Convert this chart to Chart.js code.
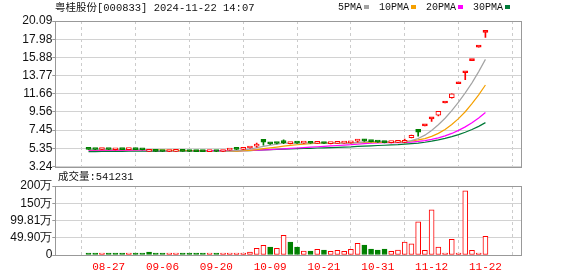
<!DOCTYPE html>
<html>
<head>
<meta charset="utf-8">
<title>粤桂股份 K线</title>
<script src="https://cdn.jsdelivr.net/npm/chart.js@4.4.1/dist/chart.umd.min.js"></script>
<style>
    html, body { margin: 0; padding: 0; background: #fff; }
    #wrap {
        position: relative; width: 578px; height: 276px; overflow: hidden;
        font-family: "Liberation Mono", "Noto Sans CJK SC", monospace; color: #111;
    }
    #wrap canvas { position: absolute; left: 0; }
    #kChart { top: 0; }
    #volChart { top: 170px; }
    .txt { position: absolute; white-space: nowrap; font-size: 10.5px; line-height: 12px; }
    #title { left: 55px; top: 2px; }
    #volTitle { left: 58px; top: 171px; }
    #legend { left: 338px; top: 2px; font-size: 10px; }
    #legend .sq { display: inline-block; width: 5px; height: 4px; margin: 0 10px 1px 2px; }
</style>
</head>
<body>
<div id="wrap">
    <canvas id="kChart" width="578" height="180"></canvas>
    <canvas id="volChart" width="578" height="106"></canvas>
    <div class="txt" id="title">粤桂股份[000833] 2024-11-22 14:07</div>
    <div class="txt" id="legend"></div>
    <div class="txt" id="volTitle">成交量:541231</div>
</div>
<script>
// Jours de cotation affichés
const dates = ['08-22', '08-23', '08-26', '08-27', '08-28', '08-29', '08-30', '09-02', '09-03', '09-04',
    '09-05', '09-06', '09-09', '09-10', '09-11', '09-12', '09-13', '09-18', '09-19', '09-20',
    '09-23', '09-24', '09-25', '09-26', '09-27', '09-30', '10-08', '10-09', '10-10', '10-11',
    '10-14', '10-15', '10-16', '10-17', '10-18', '10-21', '10-22', '10-23', '10-24', '10-25',
    '10-28', '10-29', '10-30', '10-31', '11-01', '11-04', '11-05', '11-06', '11-07', '11-08',
    '11-11', '11-12', '11-13', '11-14', '11-15', '11-18', '11-19', '11-20', '11-21', '11-22'];

// Cours (ouverture, plus haut, plus bas, clôture)
const open = [5.24, 5.22, 5.21, 5.23, 5.18, 5.20, 5.19, 5.21, 5.20, 5.00,
    5.03, 4.99, 4.98, 4.99, 5.00, 4.99, 4.98, 4.97, 4.96, 4.99,
    4.98, 5.14, 5.25, 5.22, 5.38, 5.60, 6.38, 5.92, 5.95, 6.11,
    5.88, 5.97, 5.94, 5.98, 5.92, 5.97, 5.88, 5.92, 5.95, 5.97,
    6.18, 6.36, 6.20, 6.12, 6.06, 6.00, 6.03, 6.03, 6.57, 7.54,
    7.95, 8.75, 9.17, 10.59, 11.22, 12.82, 14.10, 15.51, 17.06, 18.77];
const high = [5.27, 5.23, 5.27, 5.24, 5.26, 5.21, 5.22, 5.22, 5.21, 5.06,
    5.04, 5.00, 5.00, 5.01, 5.01, 5.00, 4.99, 4.98, 5.00, 5.00,
    5.04, 5.24, 5.27, 5.34, 5.48, 5.95, 6.38, 5.98, 5.97, 6.34,
    6.03, 5.99, 6.00, 5.99, 5.99, 5.98, 5.94, 5.97, 5.99, 6.05,
    6.38, 6.38, 6.22, 6.14, 6.08, 6.05, 6.08, 6.41, 6.88, 7.54,
    7.95, 8.75, 9.63, 10.59, 11.65, 12.82, 14.10, 15.51, 17.06, 18.77];
const low = [5.21, 5.20, 5.20, 5.20, 5.17, 5.18, 5.18, 5.19, 5.17, 4.98,
    4.97, 4.97, 4.97, 4.98, 4.98, 4.97, 4.96, 4.95, 4.95, 4.97,
    4.97, 5.12, 5.20, 5.20, 5.36, 5.48, 5.72, 5.80, 5.85, 5.88,
    5.86, 5.92, 5.92, 5.91, 5.90, 5.88, 5.86, 5.90, 5.93, 5.95,
    6.05, 6.15, 6.08, 6.03, 5.97, 5.98, 6.00, 6.00, 6.55, 6.76,
    7.95, 8.45, 9.10, 10.59, 11.15, 12.82, 13.30, 15.51, 17.06, 18.20];
const close = [5.22, 5.21, 5.23, 5.21, 5.20, 5.19, 5.21, 5.20, 5.18, 5.03,
    4.99, 4.98, 4.99, 5.00, 4.99, 4.98, 4.97, 4.96, 4.99, 4.98,
    5.02, 5.22, 5.23, 5.32, 5.46, 5.83, 6.06, 5.86, 5.90, 6.00,
    5.97, 5.94, 5.98, 5.93, 5.97, 5.90, 5.92, 5.95, 5.97, 6.02,
    6.36, 6.20, 6.12, 6.06, 6.00, 6.03, 6.05, 6.26, 6.84, 7.23,
    7.95, 8.75, 9.63, 10.59, 11.65, 12.82, 14.10, 15.51, 17.06, 18.77];

// Moyennes mobiles
const ma5 = [5.22, 5.22, 5.22, 5.22, 5.21, 5.21, 5.21, 5.20, 5.20, 5.16,
    5.12, 5.08, 5.03, 5.00, 4.99, 4.99, 4.99, 4.98, 4.98, 4.98,
    4.98, 5.03, 5.09, 5.15, 5.25, 5.41, 5.58, 5.71, 5.82, 5.93,
    5.96, 5.93, 5.96, 5.96, 5.96, 5.94, 5.94, 5.93, 5.94, 5.95,
    6.04, 6.10, 6.13, 6.15, 6.15, 6.08, 6.05, 6.08, 6.24, 6.48,
    6.87, 7.41, 8.08, 8.83, 9.71, 10.69, 11.76, 12.93, 14.23, 15.65];
const ma10 = [5.19, 5.20, 5.20, 5.20, 5.20, 5.20, 5.20, 5.20, 5.19, 5.19,
    5.17, 5.14, 5.12, 5.10, 5.08, 5.06, 5.03, 5.01, 4.99, 4.98,
    4.99, 5.01, 5.03, 5.07, 5.11, 5.20, 5.31, 5.40, 5.49, 5.59,
    5.69, 5.76, 5.83, 5.89, 5.94, 5.95, 5.94, 5.95, 5.95, 5.96,
    5.99, 6.02, 6.03, 6.05, 6.05, 6.06, 6.08, 6.11, 6.19, 6.32,
    6.47, 6.73, 7.08, 7.53, 8.10, 8.78, 9.58, 10.51, 11.53, 12.68];
const ma20 = [5.10, 5.10, 5.10, 5.10, 5.10, 5.10, 5.10, 5.10, 5.10, 5.10,
    5.09, 5.09, 5.09, 5.09, 5.09, 5.09, 5.09, 5.09, 5.09, 5.09,
    5.08, 5.08, 5.08, 5.08, 5.10, 5.13, 5.17, 5.20, 5.24, 5.29,
    5.34, 5.38, 5.43, 5.48, 5.53, 5.58, 5.62, 5.67, 5.72, 5.77,
    5.84, 5.89, 5.93, 5.97, 6.00, 6.01, 6.01, 6.03, 6.07, 6.14,
    6.23, 6.38, 6.56, 6.79, 7.07, 7.42, 7.83, 8.31, 8.86, 9.50];
const ma30 = [4.96, 4.97, 4.98, 4.99, 4.99, 5.00, 5.01, 5.02, 5.03, 5.03,
    5.03, 5.03, 5.03, 5.04, 5.04, 5.04, 5.04, 5.04, 5.04, 5.04,
    5.04, 5.05, 5.06, 5.07, 5.09, 5.12, 5.16, 5.19, 5.22, 5.25,
    5.28, 5.30, 5.33, 5.35, 5.38, 5.40, 5.43, 5.45, 5.48, 5.51,
    5.56, 5.60, 5.63, 5.67, 5.70, 5.74, 5.77, 5.82, 5.88, 5.95,
    6.05, 6.17, 6.32, 6.49, 6.70, 6.93, 7.20, 7.52, 7.89, 8.32];

// Volumes (手)
const volume = [20000, 20000, 20000, 48000, 48000, 48000, 48000, 48000, 48000, 87000,
    48000, 20000, 20000, 48000, 20000, 20000, 20000, 20000, 58000, 29000,
    29000, 58000, 58000, 58000, 87000, 193000, 280000, 232000, 193000, 570000,
    377000, 232000, 116000, 116000, 164000, 145000, 106000, 135000, 106000, 164000,
    338000, 290000, 174000, 145000, 174000, 106000, 145000, 377000, 320000, 957000,
    135000, 1304000, 232000, 58000, 454000, 29000, 1855000, 135000, 29000, 541231];

// Graduations
const priceTicks = [3.24, 5.35, 7.45, 9.56, 11.66, 13.77, 15.88, 17.98, 20.09];
const volTicks = [0, 499050, 998100, 1497150, 1996200];
const volTickLabels = ['0', '49.90万', '99.81万', '150万', '200万'];
const maNames = ['5PMA', '10PMA', '20PMA', '30PMA'];

const RED = '#ff0000';
const GREEN = '#008000';
const maColors = ['#a3a3a3', '#f5a000', '#ff00ff', '#007a38'];

// une date affichée tous les 8 jours
const labelIdx = dates.map((d, i) => i).filter(i => (i - 3) % 8 === 0);

// Légende
document.getElementById('legend').innerHTML = maNames
    .map((n, k) => n + '<span class="sq" style="background:' + maColors[k] + '"></span>')
    .join('');

const candleColor = i => close[i] < open[i] ? GREEN : RED;
const volUp = i => i === 0 ? close[0] >= open[0] : close[i] >= close[i - 1];

// Cadre autour de la zone de tracé
const framePlugin = {
    id: 'frame',
    afterDraw(chart) {
        const a = chart.chartArea;
        const ctx = chart.ctx;
        ctx.save();
        ctx.strokeStyle = '#999';
        ctx.lineWidth = 1;
        ctx.strokeRect(Math.round(a.left) + 0.5, Math.round(a.top) + 0.5,
            Math.round(a.right - a.left) - 1, Math.round(a.bottom - a.top));
        ctx.restore();
    }
};

const xAxis = {
    type: 'linear',
    min: -0.6,
    max: 60.1,
    afterBuildTicks: s => { s.ticks = labelIdx.map(v => ({ value: v })); },
    grid: { color: '#cccccc', drawTicks: false },
    border: { display: false, dash: [3, 3] }
};

const yFont = { family: 'Liberation Sans', size: 12 };

// Graphique des cours
new Chart(document.getElementById('kChart'), {
    type: 'bar',
    data: {
        datasets: [
            ...[ma5, ma10, ma20, ma30].map((arr, k) => ({
                type: 'line',
                label: maNames[k],
                data: arr.map((v, i) => ({ x: i, y: v })),
                borderColor: maColors[k],
                borderWidth: 1.2,
                pointRadius: 0,
                tension: 0,
                order: 2
            })),
            {
                label: 'wick',
                data: low.map((l, i) => ({ x: i, y: [l, high[i]] })),
                backgroundColor: ctx => candleColor(ctx.dataIndex),
                barThickness: 1,
                grouped: false,
                order: 1
            },
            {
                label: 'body',
                data: open.map((o, i) => ({ x: i, y: [o, close[i]] })),
                backgroundColor: ctx => close[ctx.dataIndex] > open[ctx.dataIndex] ? '#ffffff' : candleColor(ctx.dataIndex),
                borderColor: ctx => candleColor(ctx.dataIndex),
                borderWidth: 1,
                borderSkipped: false,
                barThickness: 5,
                minBarLength: 2,
                grouped: false,
                order: 0
            }
        ]
    },
    options: {
        responsive: false,
        animation: false,
        devicePixelRatio: 1,
        layout: { padding: { left: 0, right: 56, top: 21, bottom: 13.5 } },
        plugins: { legend: { display: false }, tooltip: { enabled: false } },
        scales: {
            x: {
                ...xAxis,
                ticks: { display: false },
                afterFit: s => { s.height = 0; }
            },
            y: {
                min: 3.24,
                max: 20.09,
                afterBuildTicks: s => { s.ticks = priceTicks.map(v => ({ value: v })); },
                ticks: { color: '#111', font: yFont, padding: 0, autoSkip: false, callback: v => v.toFixed(2) },
                grid: { color: '#d2d2d2', tickLength: 3, tickColor: '#999' },
                border: { display: false },
                afterFit: s => { s.width = 55.3; }
            }
        }
    },
    plugins: [framePlugin]
});

// Graphique des volumes
new Chart(document.getElementById('volChart'), {
    type: 'bar',
    data: {
        datasets: [{
            label: '成交量',
            data: volume.map((v, i) => ({ x: i, y: v })),
            backgroundColor: ctx => volUp(ctx.dataIndex) ? '#ffffff' : GREEN,
            borderColor: ctx => volUp(ctx.dataIndex) ? RED : GREEN,
            borderWidth: 1,
            borderSkipped: false,
            barThickness: 5,
            minBarLength: 2
        }]
    },
    options: {
        responsive: false,
        animation: false,
        devicePixelRatio: 1,
        layout: { padding: { left: 0, right: 56, top: 16, bottom: 0 } },
        plugins: { legend: { display: false }, tooltip: { enabled: false } },
        scales: {
            x: {
                ...xAxis,
                ticks: {
                    color: RED,
                    font: { family: 'Liberation Mono', size: 11 },
                    padding: 5,
                    maxRotation: 0,
                    autoSkip: false,
                    callback: v => dates[v]
                },
                afterFit: s => { s.height = 21; }
            },
            y: {
                min: 0,
                max: 1996200,
                afterBuildTicks: s => { s.ticks = volTicks.map(v => ({ value: v })); },
                ticks: { color: '#111', font: yFont, padding: 0, autoSkip: false, callback: (v, idx) => volTickLabels[idx] },
                grid: { color: '#d2d2d2', tickLength: 3, tickColor: '#999' },
                border: { display: false },
                afterFit: s => { s.width = 55.3; }
            }
        }
    },
    plugins: [framePlugin]
});
</script>
</body>
</html>
